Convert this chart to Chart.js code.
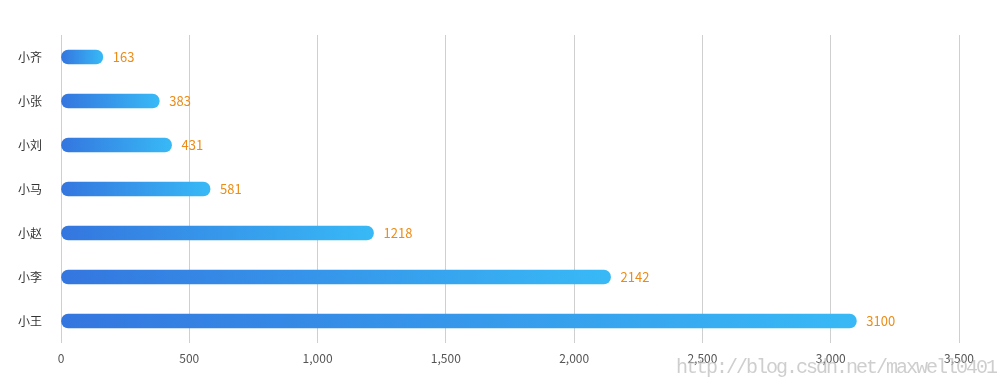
<!DOCTYPE html>
<html>
<head>
<meta charset="utf-8">
<script src="https://cdn.jsdelivr.net/npm/chart.js@4"></script>
<style>
  html, body { margin: 0; padding: 0; background: #fff; }
  #wrap { position: relative; width: 1008px; height: 388px; }
  #mark {
    position: absolute; left: 676px; top: 356px;
    font-family: "Liberation Mono", monospace; font-size: 20px; letter-spacing: -2px;
    color: rgba(185,185,185,0.7); white-space: nowrap;
  }
</style>
</head>
<body>
<div id="wrap">
  <canvas id="myChart" width="1008" height="388"></canvas>
  <div id="mark">http://blog.csdn.net/maxwell0401</div>
</div>
<script>
// people, top to bottom
const names = ['小齐', '小张', '小刘', '小马', '小赵', '小李', '小王']
const scores = [163, 383, 431, 581, 1218, 2142, 3100]
const xTicks = [0, 500, 1000, 1500, 2000, 2500, 3000, 3500]

const cnFont = '"Noto Sans CJK SC", "Noto Sans", sans-serif'

// every bar gets its own dark -> light gradient
function barGradient(c) {
  const bar = c.element
  if (!bar || bar.base === undefined || isNaN(bar.x)) return '#3597ea'
  const g = c.chart.ctx.createLinearGradient(bar.base, 0, bar.x, 0)
  g.addColorStop(0, '#3476df')
  g.addColorStop(1, '#38b9f6')
  return g
}

const gradientBars = {
  id: 'gradientBars',
  beforeDatasetsDraw(chart) {
    chart.getDatasetMeta(0).data.forEach((bar, i) => {
      bar.options.backgroundColor = barGradient({ element: bar, chart: chart })
    })
  }
}

// orange value next to each bar
const valueLabels = {
  id: 'valueLabels',
  afterDatasetsDraw(chart) {
    const ctx = chart.ctx
    ctx.save()
    ctx.font = '13px ' + cnFont
    ctx.fillStyle = '#ec8c16'
    ctx.textBaseline = 'middle'
    ctx.textAlign = 'left'
    chart.getDatasetMeta(0).data.forEach((bar, i) => {
      ctx.fillText(scores[i], bar.x + 10, bar.y)
    })
    ctx.restore()
  }
}

const config = {
  type: 'bar',
  data: {
    labels: names,
    datasets: [{
      data: scores,
      backgroundColor: barGradient,
      barThickness: 14,
      borderRadius: 7,
      borderSkipped: false
    }]
  },
  options: {
    indexAxis: 'y',
    responsive: false,
    animation: false,
    layout: { padding: { top: 35, right: 49, bottom: 20, left: 0 } },
    plugins: { legend: { display: false }, tooltip: { enabled: false } },
    scales: {
      x: {
        min: 0,
        max: 3500,
        afterBuildTicks: (axis) => { axis.ticks = xTicks.map(v => ({ value: v })) },
        grid: { color: '#cfcfcf', drawTicks: false },
        border: { display: false },
        ticks: { color: '#555', padding: 8, font: { size: 12, family: cnFont } },
        afterFit: (s) => { s.height = 25 }
      },
      y: {
        grid: { display: false },
        border: { display: false },
        ticks: { color: '#333', padding: 11, font: { size: 12, family: cnFont } },
        afterFit: (s) => { s.width = 61 }
      }
    }
  },
  plugins: [gradientBars, valueLabels]
}

document.addEventListener('DOMContentLoaded', () => {
  const myChart = new Chart(document.getElementById('myChart'), config)
})
</script>
</body>
</html>
